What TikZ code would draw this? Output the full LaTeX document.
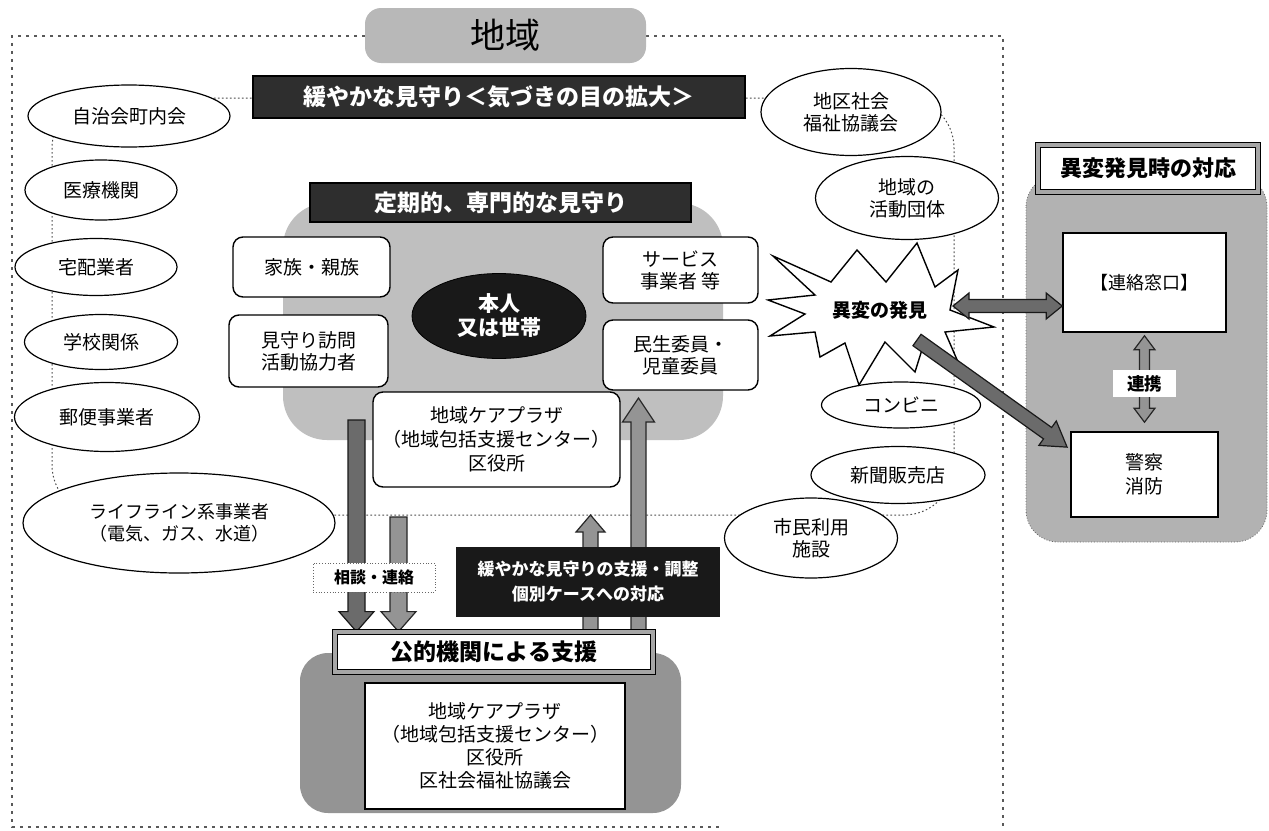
\documentclass[tikz,border=0pt]{standalone}
\usepackage{fontspec}
\setmainfont{Noto Sans CJK JP}
\usetikzlibrary{shapes.geometric,calc}
\pgfdeclarelayer{back}
\pgfdeclarelayer{mid}
\pgfsetlayers{back,mid,main}
\newcommand\fsz[2]{\fontsize{#1}{#2}\selectfont}
% single block arrow: #1 style, #2 from, #3 to, #4 half shaft, #5 half head, #6 head length (pt)
\newcommand\blockarrow[6]{%
  \path let \p1=(#2), \p2=(#3), \n1={atan2(\y2-\y1,\x2-\x1)}, \n2={veclen(\x2-\x1,\y2-\y1)} in
    \pgfextra{\xdef\baAng{\n1}\xdef\baLen{\n2}};
  \draw[#1, shift={(#2)}, rotate=\baAng]
    (0pt,{-#4*1pt}) -- ({(\baLen-#6)*1pt},{-#4*1pt}) -- ({(\baLen-#6)*1pt},{-#5*1pt})
    -- ({\baLen*1pt},0pt) -- ({(\baLen-#6)*1pt},{#5*1pt}) -- ({(\baLen-#6)*1pt},{#4*1pt})
    -- (0pt,{#4*1pt}) -- cycle;}
% double block arrow
\newcommand\dblockarrow[6]{%
  \path let \p1=(#2), \p2=(#3), \n1={atan2(\y2-\y1,\x2-\x1)}, \n2={veclen(\x2-\x1,\y2-\y1)} in
    \pgfextra{\xdef\baAng{\n1}\xdef\baLen{\n2}};
  \draw[#1, shift={(#2)}, rotate=\baAng]
    (0pt,0pt) -- ({#6*1pt},{-#5*1pt}) -- ({#6*1pt},{-#4*1pt}) -- ({(\baLen-#6)*1pt},{-#4*1pt})
    -- ({(\baLen-#6)*1pt},{-#5*1pt}) -- ({\baLen*1pt},0pt) -- ({(\baLen-#6)*1pt},{#5*1pt})
    -- ({(\baLen-#6)*1pt},{#4*1pt}) -- ({#6*1pt},{#4*1pt}) -- ({#6*1pt},{#5*1pt}) -- cycle;}
\tikzset{
  ell/.style={ellipse, draw=black, line width=0.6pt, fill=white, inner sep=0pt, align=center, font=\fsz{9.5}{11}},
  rbox/.style={rectangle, rounded corners=5pt, draw=black, line width=0.7pt, fill=white, align=center, inner sep=0pt, font=\fsz{9.5}{11}},
  sqbox/.style={rectangle, draw=black, line width=0.8pt, fill=white, align=center, inner sep=0pt, font=\fsz{9.5}{11.5}},
  darkbanner/.style={rectangle, fill=black!82, draw=black, line width=0.6pt, text=white, inner sep=0pt, font=\bfseries\fsz{11.5}{13}},
  bevel/.style={rectangle, fill=white, draw=black, line width=0.4pt, double=black!35, double distance=2.4pt, inner sep=0pt, align=center, font=\bfseries\fsz{11.5}{13}},
  tab/.style={rectangle, rounded corners=8pt, fill=black!28, inner sep=0pt, font=\fsz{17.5}{20}},
  outerframe/.style={draw=black!65, line width=1.3pt, dash pattern=on 1.3pt off 2.7pt},
  innerline/.style={draw=black!70, line width=0.5pt, dash pattern=on 0.8pt off 1.2pt},
  arrowbody/.style={fill=black!42, draw=black!85, line width=0.6pt},
  arrowdark/.style={fill=black!58, draw=black!90, line width=0.6pt},
  graybg/.style={fill=black!25},
}
\begin{document}
\begin{tikzpicture}[x=0.5pt,y=-0.5pt]
\useasboundingbox (0,0) rectangle (1269,830);

% ---------- background layer ----------
\begin{pgfonlayer}{back}
  \fill[white] (0,0) rectangle (1269,830);
  \draw[outerframe] (365,36) -- (12,36) -- (12,827) -- (720,827);
  \draw[outerframe] (646,36) -- (1003,36) -- (1003,830);
  \draw[innerline, rounded corners=25pt] (52,98) rectangle (954,515);
  \fill[graybg, rounded corners=22pt] (283,203) rectangle (723,440);
  \fill[black!42, rounded corners=14pt] (300,653) rectangle (681,813);
  \filldraw[fill=black!30, draw=black!60, densely dotted, rounded corners=16pt] (1026,175) rectangle (1267,542);
\end{pgfonlayer}

\node[tab, minimum width=140.5pt, minimum height=27.5pt] (chiiki) at (505.5,35.5) {地域};

% ---------- left / right ellipses ----------
\node[ell, minimum width=101pt, minimum height=31pt] (jichi) at (129,116) {自治会町内会};
\node[ell, minimum width=76pt, minimum height=30pt] (iryo) at (101,190) {医療機関};
\node[ell, minimum width=81pt, minimum height=28.5pt] (takuhai) at (96,267) {宅配業者};
\node[ell, minimum width=76.5pt, minimum height=27.5pt] (gakko) at (101,342) {学校関係};
\node[ell, minimum width=92.5pt, minimum height=34.5pt] (yubin) at (107,417) {郵便事業者};
\node[ell, minimum width=156pt, minimum height=50pt, font=\fsz{9}{11}] (life) at (179,523) {ライフライン系事業者\\（電気、ガス、水道）};
\node[ell, minimum width=90pt, minimum height=43.5pt] (chiku) at (851,112) {地区社会\\福祉協議会};
\node[ell, minimum width=91.5pt, minimum height=41.5pt] (katsudo) at (907,198) {地域の\\活動団体};
\node[ell, minimum width=79.5pt, minimum height=23pt] (conv) at (901,405) {コンビニ};
\node[ell, minimum width=87pt, minimum height=28.5pt] (news) at (898,475) {新聞販売店};
\node[ell, minimum width=86.5pt, minimum height=40pt] (shimin) at (811,538) {市民利用\\施設};

% ---------- banners ----------
\node[darkbanner, minimum width=246pt, minimum height=21pt] (yuru) at (499,97) {緩やかな見守り＜気づきの目の拡大＞};
\node[darkbanner, minimum width=190.5pt, minimum height=19.5pt] (teiki) at (500.5,202.5) {定期的、専門的な見守り};

% ---------- centre group ----------
\node[rbox, minimum width=78.5pt, minimum height=30pt] (kazoku) at (311.5,267) {家族・親族};
\node[rbox, minimum width=79.5pt, minimum height=36pt] (mimamori) at (308.5,351) {見守り訪問\\活動協力者};
\node[rbox, minimum width=77.5pt, minimum height=33pt] (service) at (680.5,270) {サービス\\事業者 等};
\node[rbox, minimum width=77.5pt, minimum height=35pt] (minsei) at (680.5,355) {民生委員・\\児童委員};
\node[ellipse, fill=black!90, draw=black, minimum width=87pt, minimum height=42.5pt, text=white,
      font=\bfseries\fsz{10.5}{12}, align=center, inner sep=0pt] (honnin) at (499,316) {本人\\又は世帯};
\node[rbox, minimum width=123.5pt, minimum height=47.5pt, font=\fsz{9.5}{12}] (plaza) at (496.5,439.5)
  {地域ケアプラザ\\（地域包括支援センター）\\区役所};

% ---------- public support ----------
\node[bevel, minimum width=159pt, minimum height=20pt] (kouteki) at (494,652) {公的機関による支援};
\node[sqbox, minimum width=130pt, minimum height=63pt, font=\fsz{9.5}{11.5}] (kubox) at (495,746)
  {地域ケアプラザ\\（地域包括支援センター）\\区役所\\区社会福祉協議会};

\coordinate (d1s) at (356.5,420);
\coordinate (d2s) at (398.5,517);
\coordinate (u1e) at (638.5,398);
\coordinate (u2e) at (590.5,515);
\begin{pgfonlayer}{mid}
  \blockarrow{arrowdark}{d1s}{kouteki.north -| d1s}{4.25}{8.75}{10}
  \blockarrow{arrowbody}{d2s}{kouteki.north -| d2s}{4.25}{8.75}{10}
  \blockarrow{arrowbody}{kouteki.north -| u1e}{u1e}{3.75}{8}{12}
  \blockarrow{arrowbody}{kouteki.north -| u2e}{u2e}{3.75}{7.25}{8.5}
\end{pgfonlayer}

\node[rectangle, fill=black!90, minimum width=132pt, minimum height=35pt, text=white, inner sep=0pt,
      font=\bfseries\fsz{8.5}{12.5}, align=center] (shien) at (588,582)
  {緩やかな見守りの支援・調整\\個別ケースへの対応};
\node[rectangle, fill=white, draw=black!60, densely dotted, minimum width=61pt, minimum height=14.5pt,
      inner sep=0pt, font=\bfseries\fsz{8}{9}] (soudan) at (374,577.5) {相談・連絡};

% ---------- starburst ----------
\draw[line width=0.7pt, fill=white] (773,256) -- (831,282) -- (857,250) -- (886,282) -- (917,243)
  -- (935,287) -- (958,270) -- (950,310) -- (994,327) -- (945,332) -- (958,362) -- (925,340)
  -- (915,372) -- (885,342) -- (859,385) -- (845,343) -- (820,357) -- (815,332) -- (770,336)
  -- (805,314) -- (768,300) -- (815,295) -- cycle;
\node[font=\bfseries\fsz{9.5}{11}, inner sep=0pt] (burst) at (880,310) {異変の発見};
\coordinate (bR) at (953,306);
\coordinate (bD) at (917,340);

% ---------- right side ----------
\node[bevel, minimum width=110pt, minimum height=23.5pt, font=\bfseries\fsz{11}{13}] (ihen) at (1148,168.5) {異変発見時の対応};
\node[sqbox, minimum width=81.5pt, minimum height=49.5pt, font=\fsz{9}{11}] (renraku) at (1144.5,282.5) {【連絡窓口】};
\node[sqbox, minimum width=73.5pt, minimum height=42.5pt, font=\fsz{9.5}{12}] (keisatsu) at (1144.5,474.5) {警察\\消防};

\coordinate (rkTop) at ($(renraku.south)+(0,3)$);
\coordinate (ksTop) at ($(keisatsu.north)+(0,-9)$);
\dblockarrow{arrowbody}{rkTop}{ksTop}{2.5}{5.25}{7}
\node[fill=white, minimum width=31.5pt, minimum height=13.5pt, inner sep=0pt, font=\bfseries\fsz{8.75}{10}] (renkei) at (1144.5,383.5) {連携};

\coordinate (rW) at (renraku.west |- bR);
\dblockarrow{arrowdark}{bR}{rW}{3.25}{6.5}{8}
\coordinate (kD) at ($(keisatsu.north west)+(-3,16)$);
\blockarrow{arrowdark}{bD}{kD}{3.5}{7.5}{12}
\end{tikzpicture}
\end{document}
